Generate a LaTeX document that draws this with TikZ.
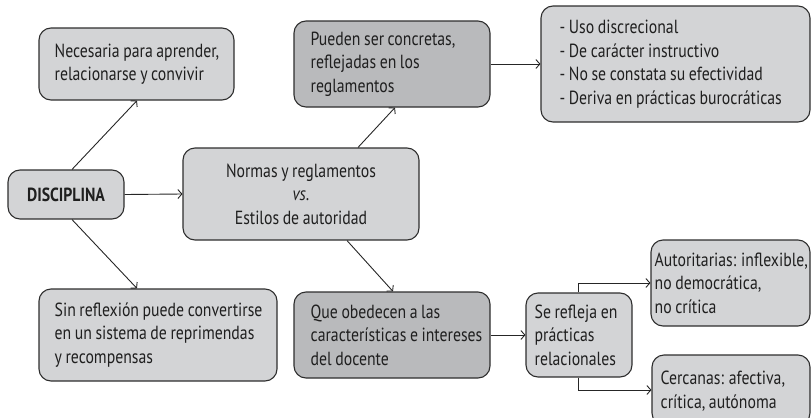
\documentclass[tikz,border=0pt]{standalone}
\usepackage{fontspec}
\setmainfont[FakeStretch=0.83,WordSpace=0.85]{PT Sans}
\usetikzlibrary{arrows.meta}
\definecolor{lightbox}{HTML}{D3D4D6}
\definecolor{darkbox}{HTML}{B9BABC}
\definecolor{edgecol}{HTML}{2E2E2E}
\tikzset{
  box/.style={draw=edgecol, line width=1.1pt, rounded corners=12pt, inner sep=0pt,
    align=center, text=black!88, font=\fontsize{19}{23.5}\selectfont},
  lbox/.style={box, fill=lightbox},
  dbox/.style={box, fill=darkbox},
  txt/.style={inner sep=0pt, anchor=west, align=left, text=black!88,
    font=\fontsize{19}{23.5}\selectfont},
  conn/.style={draw=black!85, line width=0.9pt, -{Straight Barb[length=4pt,width=9pt]}}
}
\begin{document}
\begin{tikzpicture}[x=1pt,y=-1pt]
\useasboundingbox (0,0) rectangle (812,418);
\node[lbox, minimum width=195pt, minimum height=72pt] (nec) at (136.5,64) {};
\node[txt] (necT) at ([xshift=16pt]nec.west) {Necesaria para aprender,\\relacionarse y convivir};
\node[dbox, minimum width=196pt, minimum height=86pt] (pue) at (392,64) {};
\node[txt] (pueT) at ([xshift=17pt]pue.west) {Pueden ser concretas,\\reflejadas en los\\reglamentos};
\node[lbox, minimum width=269pt, minimum height=116pt] (bul) at (675.5,64) {};
\node[txt] (bulT) at ([xshift=19pt]bul.west) {- Uso discrecional\\- De carácter instructivo\\- No se constata su efectividad\\- Deriva en prácticas burocráticas};
\node[lbox, minimum width=116pt, minimum height=49pt] (dis) at (66,194.5) {\textbf{DISCIPLINA}};
\node[lbox, minimum width=236pt, minimum height=92pt] (nor) at (301,194)
  {Normas y reglamentos\\\textit{vs}.\\Estilos de autoridad};
\node[lbox, minimum width=238pt, minimum height=92pt] (sin) at (158,335) {};
\node[txt] (sinT) at ([xshift=16pt]sin.west) {Sin reflexión puede convertirse\\en un sistema de reprimendas\\y recompensas};
\node[dbox, minimum width=196pt, minimum height=86pt] (que) at (392,335) {};
\node[txt] (queT) at ([xshift=17pt]que.west) {Que obedecen a las\\características e intereses\\del docente};
\node[lbox, minimum width=106pt, minimum height=84pt] (ser) at (579,335) {};
\node[txt] (serT) at ([xshift=9pt]ser.west) {Se refleja en\\prácticas\\relacionales};
\node[lbox, minimum width=159pt, minimum height=86pt] (aut) at (730.5,283) {};
\node[txt] (autT) at ([xshift=4pt]aut.west) {Autoritarias: inflexible,\\no democrática,\\no crítica};
\node[lbox, minimum width=158pt, minimum height=70pt] (cer) at (731,390) {};
\node[txt] (cerT) at ([xshift=9pt,yshift=-1pt]cer.west) {Cercanas: afectiva,\\crítica, autónoma};
\draw[conn] (dis.east) -- (nor.west);
\draw[conn] ([xshift=6pt]dis.north) -- ([xshift=0.5pt]nec.south);
\draw[conn] ([xshift=6pt]dis.south) -- ([xshift=-21pt]sin.north);
\draw[conn] ([xshift=57pt]nor.north) -- ([xshift=3pt]pue.south);
\draw[conn] ([xshift=46pt]nor.south) -- ([xshift=1pt]que.north);
\draw[conn] (pue.east) -- (bul.west);
\draw[conn] (que.east) -- (ser.west);
\draw[conn] ([xshift=-1pt]ser.north) |- (aut.west);
\draw[conn] ([xshift=-1pt]ser.south) |- (cer.west);
\end{tikzpicture}
\end{document}
